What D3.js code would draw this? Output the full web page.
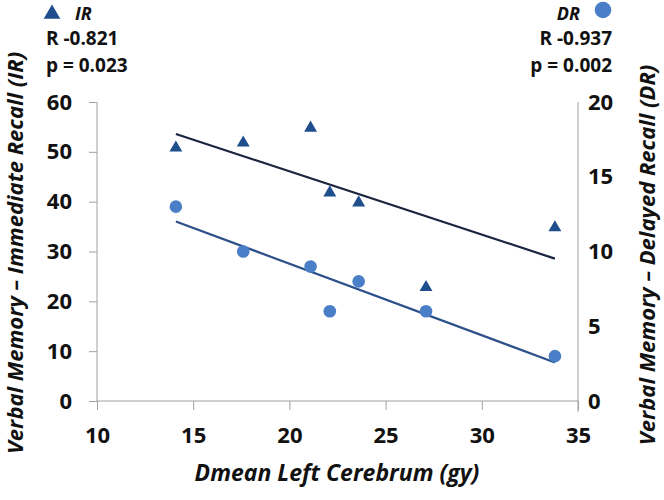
<!DOCTYPE html>
<html><head><meta charset="utf-8">
<script src="https://cdn.jsdelivr.net/npm/d3@7"></script>
<style>
body{margin:0;background:#fff;}
text{font-family:"Open Sans","Noto Sans",sans-serif;font-weight:bold;fill:#111;}
</style></head>
<body>
<svg id="chart" width="664" height="500"></svg>
<script>
const doseX = [14.1, 17.6, 21.1, 22.1, 23.6, 27.1, 33.8];
const irValues = [51, 52, 55, 42, 40, 23, 35];
const drValues = [13, 10, 9, 6, 8, 6, 3];
const xTicks = [10, 15, 20, 25, 30, 35];
const irTicks = [0, 10, 20, 30, 40, 50, 60];
const drTicks = [0, 5, 10, 15, 20];
const irStats = ["R -0.821", "p = 0.023"];
const drStats = ["R -0.937", "p = 0.002"];

const svg = d3.select("#chart");
const L = 97, R = 578, T = 102, B = 401;
const x = d3.scaleLinear().domain([10, 35]).range([L, R]);
const yIR = d3.scaleLinear().domain([0, 60]).range([B, T]);
const yDR = d3.scaleLinear().domain([0, 20]).range([B, T]);
const axisColor = "#a0a0a0";

const gl = svg.append("g").attr("transform", `translate(${L},0)`)
  .call(d3.axisLeft(yIR).tickValues(irTicks).tickSize(8).tickPadding(17));
const gb = svg.append("g").attr("transform", `translate(0,${B})`)
  .call(d3.axisBottom(x).tickValues(xTicks).tickSize(9).tickPadding(17));
const gr = svg.append("g").attr("transform", `translate(${R},0)`)
  .call(d3.axisRight(yDR).tickValues(drTicks).tickSize(0).tickPadding(10));
[gl, gb, gr].forEach(g => {
  g.select(".domain").attr("stroke", axisColor).attr("stroke-width", 1);
  g.selectAll(".tick line").attr("stroke", axisColor);
  g.selectAll(".tick text").style("font-size", "22px").attr("fill", "#111")
    .style("font-family", "'Open Sans',sans-serif").style("font-weight", "bold");
});
gr.select(".domain").attr("d", `M0,${T}V${B + 11}`);
gl.select(".domain").attr("d", `M0,${T}V${B}`);
gb.select(".domain").attr("d", `M${L},0H${R}`);

function fit(xs, ys) {
  const mx = d3.mean(xs), my = d3.mean(ys);
  let sxy = 0, sxx = 0;
  xs.forEach((v, i) => { sxy += (v - mx) * (ys[i] - my); sxx += (v - mx) ** 2; });
  const b = sxy / sxx;
  return v => my + b * (v - mx);
}
const x0 = d3.min(doseX), x1 = d3.max(doseX);
const fIR = fit(doseX, irValues), fDR = fit(doseX, drValues);
svg.append("line").attr("x1", x(x0)).attr("y1", yIR(fIR(x0))).attr("x2", x(x1)).attr("y2", yIR(fIR(x1)))
  .attr("stroke", "#1a2540").attr("stroke-width", 2.2);
svg.append("line").attr("x1", x(x0)).attr("y1", yDR(fDR(x0))).attr("x2", x(x1)).attr("y2", yDR(fDR(x1)))
  .attr("stroke", "#2c5089").attr("stroke-width", 2.2);

const tri = d3.symbol().type(d3.symbolTriangle).size(72);
svg.append("g").selectAll("path").data(doseX).join("path")
  .attr("d", tri).attr("transform", (d, i) => `translate(${x(d)},${yIR(irValues[i]) + 1})`)
  .attr("fill", "#1f4e8c");
svg.append("g").selectAll("circle").data(doseX).join("circle")
  .attr("cx", d => x(d)).attr("cy", (d, i) => yDR(drValues[i])).attr("r", 6.3)
  .attr("fill", "#4a7ec6");

svg.append("text").attr("transform", `translate(337,481)`).attr("text-anchor", "middle")
  .style("font-size", "23px").style("font-style", "italic").text("Dmean Left Cerebrum (gy)");
svg.append("text").attr("transform", `translate(23,253) rotate(-90)`).attr("text-anchor", "middle")
  .style("font-size", "22px").style("font-style", "italic").text("Verbal Memory – Immediate Recall (IR)");
svg.append("text").attr("transform", `translate(655,255) rotate(-90)`).attr("text-anchor", "middle")
  .style("font-size", "22px").style("font-style", "italic").text("Verbal Memory – Delayed Recall (DR)");

svg.append("path").attr("d", d3.symbol().type(d3.symbolTriangle).size(120)).attr("transform", "translate(52,14)").attr("fill", "#1f4e8c");
svg.append("text").attr("x", 75).attr("y", 20).style("font-size", "18px").style("font-style", "italic").text("IR");
svg.append("g").selectAll("text").data(irStats).join("text")
  .attr("x", 46).attr("y", (d, i) => 45 + i * 27).style("font-size", "19px").text(d => d);

svg.append("circle").attr("cx", 603).attr("cy", 10).attr("r", 8.3).attr("fill", "#4a7ec6");
svg.append("text").attr("x", 580).attr("y", 20).attr("text-anchor", "end").style("font-size", "18px").style("font-style", "italic").text("DR");
svg.append("g").selectAll("text").data(drStats).join("text")
  .attr("x", 612).attr("y", (d, i) => 45 + i * 27).attr("text-anchor", "end").style("font-size", "19px").text(d => d);
</script>
</body></html>
